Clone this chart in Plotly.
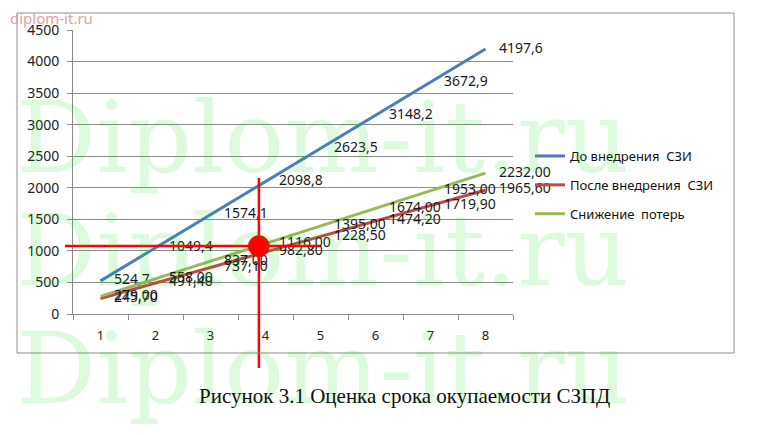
import plotly.graph_objects as go

# years of operation
years = ["1", "2", "3", "4", "5", "6", "7", "8"]

before = [524.7, 1049.4, 1574.1, 2098.8, 2623.5, 3148.2, 3672.9, 4197.6]
after = [245.70, 491.40, 737.10, 982.80, 1228.50, 1474.20, 1719.90, 1965.60]
reduction = [279.00, 558.00, 837.00, 1116.00, 1395.00, 1674.00, 1953.00, 2232.00]

y_ticks = [0, 500, 1000, 1500, 2000, 2500, 3000, 3500, 4000, 4500]

# payback point marked by hand on the picture (category index, value)
payback_x = 2.88
payback_y = 1077

# page body adds an 8px margin, so the figure is drawn 8px smaller
OFF = 8
W, H = 774 - OFF, 435 - OFF
L, T = 73 - OFF, 30 - OFF
PW, PH = 440, 284
R, B = W - L - PW, H - T - PH


def px(x):
    # reference pixel x -> paper fraction
    return (x - 73) / PW


def py(y):
    return (314 - y) / PH


def fmt(vals, nd):
    return [("{:." + str(nd) + "f}").format(v).replace(".", ",") for v in vals]


series = [
    ("До внедрения  СЗИ", before, "#4a7ebb", 1),
    ("После внедрения  СЗИ", after, "#be4b48", 2),
    ("Снижение  потерь", reduction, "#98b954", 2),
]

fig = go.Figure()
for i, (name, vals, color, nd) in enumerate(series):
    fig.add_trace(go.Scatter(
        x=years, y=vals, name=name, legendgroup=str(i),
        mode="lines+markers+text",
        line=dict(color=color, width=3),
        marker=dict(size=20, color="rgba(0,0,0,0)"),
        text=fmt(vals, nd), textposition="middle right",
        textfont=dict(family="Noto Sans", size=14, color="#1a1a1a"),
        cliponaxis=False,
    ))

red = "#ff0000"
fig.add_shape(type="line", xref="paper", yref="y", x0=px(65), x1=px(320),
              y0=payback_y, y1=payback_y, line=dict(color=red, width=2.5))
fig.add_shape(type="line", xref="x", yref="paper", x0=payback_x, x1=payback_x,
              y0=py(368), y1=py(178), line=dict(color=red, width=2.5))
fig.add_shape(type="circle", xref="x", yref="y",
              x0=payback_x - 0.19, x1=payback_x + 0.19,
              y0=payback_y - 165, y1=payback_y + 165,
              fillcolor=red, line=dict(color=red, width=1))

# outer chart frame
fig.add_shape(type="rect", xref="paper", yref="paper",
              x0=px(17), x1=px(734), y0=py(353), y1=py(13),
              line=dict(color="#8c8c8c", width=1))

# watermarks
for yc in [137, 250, 368]:
    fig.add_annotation(text="Diplom-it.ru", xref="paper", yref="paper",
                       x=px(14), y=py(yc), xanchor="left", yanchor="middle",
                       showarrow=False,
                       font=dict(family="DejaVu Serif", size=100,
                                 color="rgba(0,220,0,0.13)"))

fig.add_annotation(text="diplom-it.ru", xref="paper", yref="paper",
                   x=px(8), y=py(18), xanchor="left", yanchor="middle",
                   showarrow=False,
                   font=dict(family="Noto Sans", size=15, color="#e8a0a0"))

fig.add_annotation(text="Рисунок 3.1 Оценка срока окупаемости СЗПД",
                   xref="paper", yref="paper", x=px(404), y=py(396),
                   xanchor="center", yanchor="middle", showarrow=False,
                   font=dict(family="Liberation Serif", size=21, color="#111"))

fig.update_layout(
    width=W, height=H, autosize=False,
    margin=dict(l=L, r=R, t=T, b=B, autoexpand=False),
    paper_bgcolor="white", plot_bgcolor="white",
    font=dict(family="Noto Sans", size=13, color="#222"),
    showlegend=True,
    legend=dict(x=px(530), y=py(141), xanchor="left", yanchor="top",
                tracegroupgap=9, font=dict(size=13, color="#111"),
                bgcolor="rgba(0,0,0,0)"),
)
fig.update_xaxes(type="category", range=[-0.5, 7.5], tickson="boundaries",
                 ticks="outside", ticklen=5, tickcolor="#8c8c8c",
                 showline=True, linecolor="#8c8c8c", showgrid=False,
                 ticklabelstandoff=9, automargin=False,
                 tickfont=dict(size=13, color="#222"))
fig.update_yaxes(range=[0, 4500], tickvals=y_ticks, ticks="outside",
                 ticklen=5, tickcolor="#8c8c8c", showline=True,
                 linecolor="#8c8c8c", showgrid=True, gridcolor="#8c8c8c",
                 zeroline=False, ticklabelstandoff=5, automargin=False,
                 tickfont=dict(size=14, color="#222"))

fig.write_html("out.html")
